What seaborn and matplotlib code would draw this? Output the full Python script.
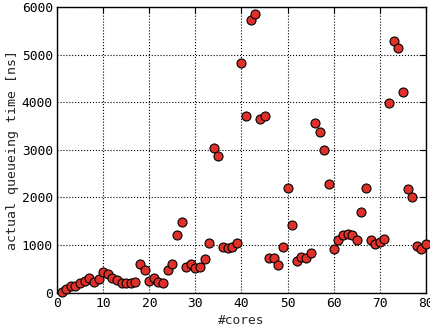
import matplotlib
matplotlib.use("Agg")
import matplotlib.pyplot as plt
import seaborn as sns
import pandas as pd

cores = list(range(1, 81))
queue_ns = [10, 84, 140, 140, 210, 245, 315, 224, 280, 427,
            385, 315, 266, 210, 210, 210, 224, 596, 477, 245,
            315, 217, 196, 477, 596, 1205, 1493, 533, 596, 512,
            533, 715, 1037, 3027, 2866, 960, 939, 960, 1037, 4828,
            3714, 5725, 5851, 3637, 3714, 736, 736, 575, 967, 2200,
            1423, 659, 750, 722, 841, 3553, 3364, 2999, 2278, 925,
            1107, 1205, 1233, 1205, 1107, 1696, 2200, 1107, 1030, 1072,
            1135, 3987, 5284, 5130, 4212, 2172, 2011, 981, 911, 1023]
x_ticks = [0, 10, 20, 30, 40, 50, 60, 70, 80]
y_ticks = [0, 1000, 2000, 3000, 4000, 5000, 6000]

df = pd.DataFrame({"cores": cores, "queue": queue_ns})

sns.set_style("white")
plt.rcParams["font.family"] = ["DejaVu Sans Mono"]
plt.rcParams["font.size"] = 9.3

fig = plt.figure(figsize=(4.3, 3.31), dpi=100)
ax = fig.add_axes([0.1326, 0.116, 0.858, 0.863])
sns.scatterplot(data=df, x="cores", y="queue", ax=ax, color="#e0302a",
                edgecolor="black", linewidth=0.8, s=42, zorder=3, clip_on=False)
ax.set_xlim(0, 80)
ax.set_ylim(0, 6000)
ax.set_xticks(x_ticks)
ax.set_yticks(y_ticks)
ax.grid(True, color="black", linestyle=":", linewidth=0.8)
ax.set_axisbelow(True)
for sp in ax.spines.values():
    sp.set_color("black")
    sp.set_linewidth(1.0)
ax.tick_params(direction="in", length=4, width=0.8, colors="black", labelsize=9.3,
               top=True, right=True, pad=3)
ax.set_xlabel("#cores", fontsize=9.3, labelpad=3)
ax.set_ylabel("actual queueing time [ns]", fontsize=9.5, labelpad=2)
fig.savefig("out.png", dpi=100)
